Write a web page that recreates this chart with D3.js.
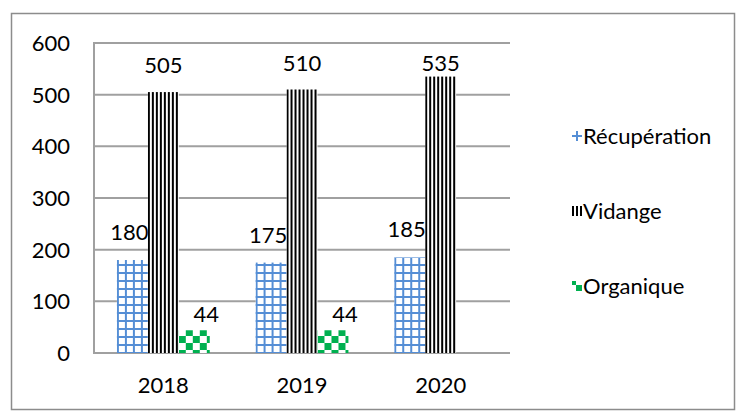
<!DOCTYPE html>
<html>
<head>
<meta charset="utf-8">
<script src="https://cdn.jsdelivr.net/npm/d3@7"></script>
<style>
  body { margin: 0; background: #fff; }
  text { font-family: Lato, "Open Sans", sans-serif; fill: #000; }
</style>
</head>
<body>
<script>
const years = ['2018', '2019', '2020'];
const series = ['Récupération', 'Vidange', 'Organique'];
const recuperation = [180, 175, 185];
const vidange = [505, 510, 535];
const organique = [44, 44, null];
const yTicks = [0, 100, 200, 300, 400, 500, 600];

const outerW = 736, outerH = 412;
const plot = { left: 94, right: 510, top: 43, bottom: 353 };
const fontSize = 22;

const svg = d3.select('body').append('svg')
    .attr('width', outerW)
    .attr('height', outerH);

// patterns
const defs = svg.append('defs');

const grid = defs.append('pattern')
    .attr('id', 'p-grid')
    .attr('patternUnits', 'userSpaceOnUse')
    .attr('width', 8).attr('height', 8);
grid.append('rect').attr('width', 8).attr('height', 8).attr('fill', '#fff');
grid.append('rect').attr('x', 0).attr('width', 2).attr('height', 8).attr('fill', '#558ed5');
grid.append('rect').attr('y', 0).attr('width', 8).attr('height', 2).attr('fill', '#558ed5');

const stripes = defs.append('pattern')
    .attr('id', 'p-stripes')
    .attr('patternUnits', 'userSpaceOnUse')
    .attr('width', 4).attr('height', 4);
stripes.append('rect').attr('width', 4).attr('height', 4).attr('fill', '#fff');
stripes.append('rect').attr('width', 2).attr('height', 4).attr('fill', '#000');

const checks = defs.append('pattern')
    .attr('id', 'p-checks')
    .attr('patternUnits', 'userSpaceOnUse')
    .attr('width', 14).attr('height', 14);
checks.append('rect').attr('width', 14).attr('height', 14).attr('fill', '#fff');
checks.append('rect').attr('width', 7).attr('height', 7).attr('fill', '#00b050');
checks.append('rect').attr('x', 7).attr('y', 7).attr('width', 7).attr('height', 7).attr('fill', '#00b050');

const fills = { 'Récupération': 'url(#p-grid)', 'Vidange': 'url(#p-stripes)', 'Organique': 'url(#p-checks)' };
const values = { 'Récupération': recuperation, 'Vidange': vidange, 'Organique': organique };
// label offsets above bar top (Excel puts them a little oddly)
const labelGap = { 'Récupération': 20, 'Vidange': 19, 'Organique': 8 };
const labelDx = { 'Récupération': -3, 'Vidange': 0, 'Organique': 12 };

// outer frame
svg.append('rect')
    .attr('x', 11.5).attr('y', 13.5)
    .attr('width', 723).attr('height', 396)
    .attr('fill', 'none')
    .attr('stroke', '#8c8c8c')
    .attr('stroke-width', 1.5);

const y = d3.scaleLinear().domain([0, 600]).range([plot.bottom, plot.top]);
const x0 = d3.scaleBand().domain(years).range([plot.left, plot.right]);
const x1 = d3.scaleBand().domain(series).range([0, x0.bandwidth()])
    .paddingInner(0).paddingOuter(0.74);

// gridlines
svg.append('g')
    .selectAll('line')
    .data(yTicks)
    .enter()
    .append('line')
    .attr('x1', plot.left).attr('x2', plot.right)
    .attr('y1', d => y(d)).attr('y2', d => y(d))
    .attr('stroke', '#a0a0a0')
    .attr('stroke-width', 2);

svg.append('line')
    .attr('x1', plot.left).attr('x2', plot.left)
    .attr('y1', plot.top - 1).attr('y2', plot.bottom + 1)
    .attr('stroke', '#a0a0a0')
    .attr('stroke-width', 2);

// y tick labels
svg.append('g')
    .selectAll('text')
    .data(yTicks)
    .enter()
    .append('text')
    .attr('x', 70)
    .attr('y', d => y(d))
    .attr('dy', '0.36em')
    .attr('text-anchor', 'end')
    .attr('font-size', fontSize)
    .text(d => d);

// x labels
svg.append('g')
    .selectAll('text')
    .data(years)
    .enter()
    .append('text')
    .attr('x', d => x0(d) + x0.bandwidth() / 2)
    .attr('y', 393)
    .attr('text-anchor', 'middle')
    .attr('font-size', fontSize)
    .text(d => d);

// bars
const flat = [];
years.forEach((yr, i) => {
    series.forEach(s => {
        if (values[s][i] != null) flat.push({ year: yr, s: s, v: values[s][i] });
    });
});

const gs = svg.selectAll('.bar')
    .data(flat)
    .enter()
    .append('g')
    .attr('class', 'bar')
    .attr('transform', d => `translate(${x0(d.year) + x1(d.s)}, 0)`);

gs.append('rect')
    .attr('x', 0)
    .attr('y', d => y(d.v))
    .attr('width', x1.bandwidth())
    .attr('height', d => y(0) - y(d.v))
    .attr('fill', d => fills[d.s]);

gs.append('text')
    .attr('text-anchor', 'middle')
    .attr('x', d => x1.bandwidth() / 2 + labelDx[d.s])
    .attr('y', d => Math.max(y(d.v) - labelGap[d.s], 71))
    .attr('font-size', fontSize)
    .text(d => d.v);

// legend
const lg = svg.append('g')
    .selectAll('g')
    .data(series)
    .enter()
    .append('g')
    .attr('transform', (d, i) => `translate(576, ${135 + i * 75})`);

lg.append('rect')
    .attr('x', -4).attr('y', -4)
    .attr('width', 10).attr('height', 10)
    .attr('fill', d => fills[d]);

lg.append('text')
    .attr('x', 7)
    .attr('y', 1)
    .attr('dy', '0.36em')
    .attr('font-size', fontSize)
    .text(d => d);
</script>
</body>
</html>
